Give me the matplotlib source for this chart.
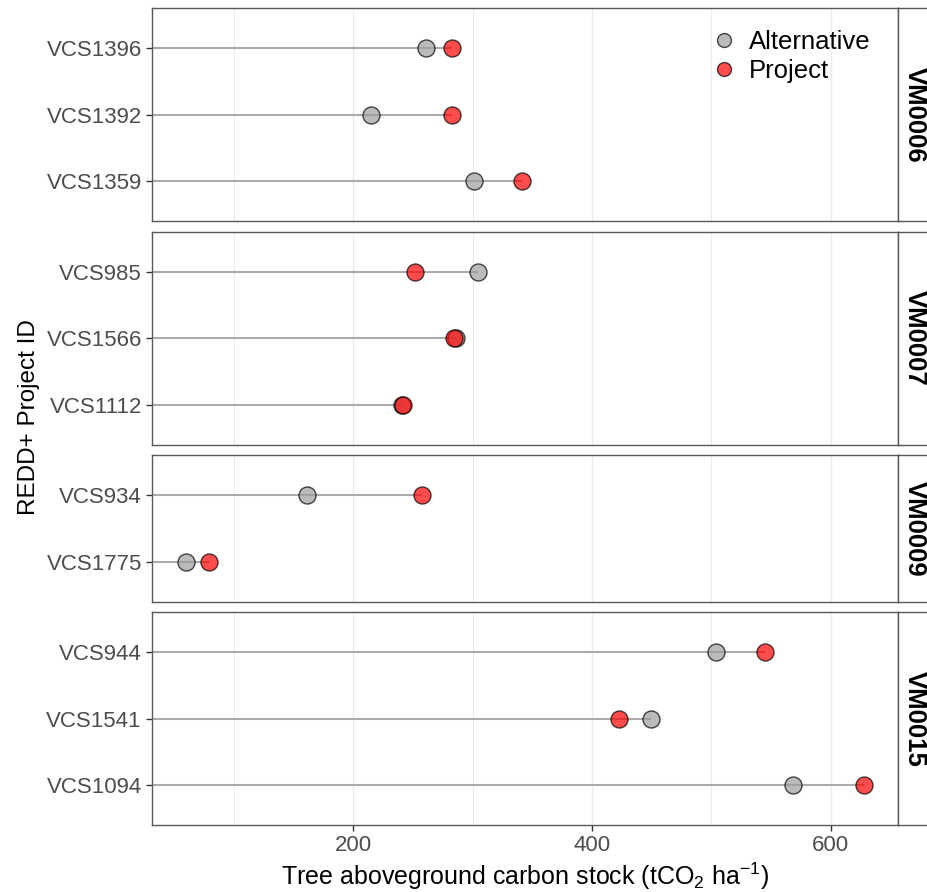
import numpy as np
import matplotlib
matplotlib.use('Agg')
import matplotlib.pyplot as plt
from matplotlib.lines import Line2D

plt.rcParams['font.family'] = ['Liberation Sans', 'DejaVu Sans']
plt.rcParams['mathtext.fontset'] = 'custom'
plt.rcParams['mathtext.rm'] = 'Liberation Sans'
plt.rcParams['mathtext.it'] = 'Liberation Sans:italic'

# data, facets top to bottom, projects top to bottom within a facet
methods = ['VM0006', 'VM0007', 'VM0009', 'VM0015']
projects = [['VCS1396', 'VCS1392', 'VCS1359'],
            ['VCS985', 'VCS1566', 'VCS1112'],
            ['VCS934', 'VCS1775'],
            ['VCS944', 'VCS1541', 'VCS1094']]
alternative = [[261, 215, 301],
               [304.6, 286.2, 241],
               [161, 60],
               [504, 449.4, 568.2]]
project = [[283, 283, 341],
           [251.6, 284.2, 242],
           [257.2, 79.2],
           [545.3, 422.8, 628.2]]

alt_col = '#9e9e9e'
prj_col = '#ff0000'
line_col = '#ababab'
border_col = '#595959'

allv = np.concatenate([np.ravel(np.concatenate(alternative)), np.ravel(np.concatenate(project))])
lo, hi = allv.min(), allv.max()
pad = 0.05 * (hi - lo)
xlim = (lo - pad, hi + pad)

fig = plt.figure(figsize=(9.27, 8.92), dpi=100)
gs = fig.add_gridspec(len(methods), 1, height_ratios=[len(p) + 0.2 for p in projects],
                      left=0.1643, right=0.969, top=0.9907, bottom=0.0751, hspace=0.0535)

axes = []
for i, (m, names, alt, prj) in enumerate(zip(methods, projects, alternative, project)):
    ax = fig.add_subplot(gs[i])
    axes.append(ax)
    y = np.arange(len(names))
    ax.set_xlim(*xlim)
    ax.set_ylim(len(names) - 1 + 0.6, -0.6)
    for xv in [100, 200, 300, 400, 500, 600]:
        ax.axvline(xv, color='#ebebeb', lw=1.0 if xv % 200 == 0 else 0.7, zorder=0)
    ax.hlines(y, 0, np.maximum(alt, prj), color=line_col, lw=1.5, zorder=1)
    ax.scatter(alt, y, s=150, color=alt_col, alpha=0.7, edgecolor='black', linewidth=1.0, zorder=2)
    ax.scatter(prj, y, s=150, color=prj_col, alpha=0.7, edgecolor='black', linewidth=1.0, zorder=3)
    ax.set_yticks(y)
    ax.set_yticklabels(names)
    ax.set_xticks([200, 400, 600])
    ax.tick_params(axis='y', labelsize=16, labelcolor='#4d4d4d', color='#333333', length=4, width=1)
    ax.tick_params(axis='x', labelsize=16, labelcolor='#4d4d4d', color='#333333', length=4, width=1)
    if i < len(methods) - 1:
        ax.tick_params(axis='x', bottom=False, labelbottom=False)
    for s in ax.spines.values():
        s.set_color(border_col)
        s.set_linewidth(1.0)
    # strip on the right
    pos = ax.get_position()
    sax = fig.add_axes([pos.x1, pos.y0, 0.036, pos.height])
    sax.set_xticks([])
    sax.set_yticks([])
    for s in sax.spines.values():
        s.set_color(border_col)
        s.set_linewidth(1.0)
    sax.text(0.5, 0.5, m, rotation=270, ha='center', va='center', fontsize=18.5,
             fontweight='bold', transform=sax.transAxes)

axes[-1].set_xlabel('Tree aboveground carbon stock (tCO$_2$ ha$^{-1}$)', fontsize=18, labelpad=3)
fig.text(0.031, (axes[0].get_position().y1 + axes[-1].get_position().y0) / 2, 'REDD+ Project ID',
         rotation=90, ha='center', va='center', fontsize=17.5)

handles = [Line2D([], [], marker='o', ls='', ms=10, markerfacecolor=alt_col, alpha=0.7,
                  markeredgecolor='black', label='Alternative'),
           Line2D([], [], marker='o', ls='', ms=10, markerfacecolor=prj_col, alpha=0.7,
                  markeredgecolor='black', label='Project')]
axes[0].legend(handles=handles, loc='upper right', bbox_to_anchor=(0.995, 1.012), frameon=False,
               fontsize=18.5, handletextpad=0.45, labelspacing=0.2, borderpad=0.45, handlelength=1.0)

fig.savefig('out.png', dpi=100)
